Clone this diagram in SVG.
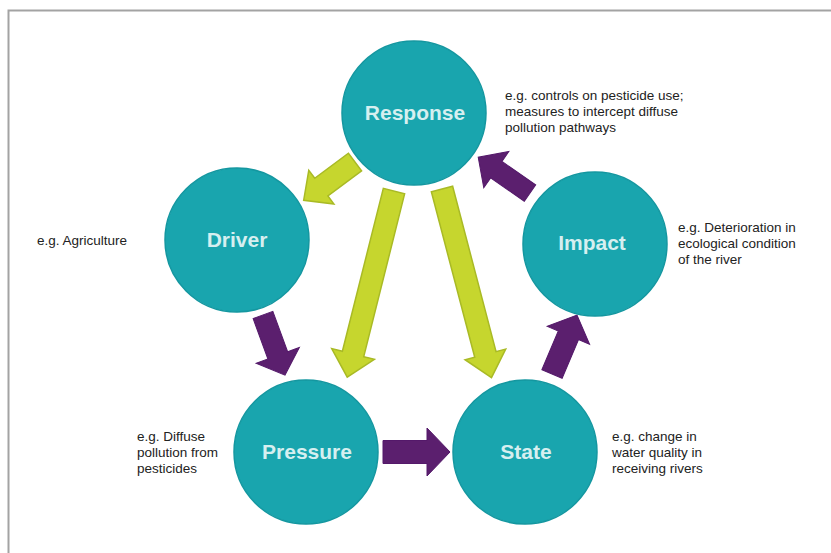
<svg xmlns="http://www.w3.org/2000/svg" width="831" height="553" viewBox="0 0 831 553">
<style>
.node{fill:#19a5ae;stroke:#1497a0;stroke-width:1.5}
.lbl{font-family:"Liberation Sans",Arial,sans-serif;font-weight:bold;font-size:21px;fill:#d6eff0;text-anchor:middle}
.note{font-family:"Liberation Sans",Arial,sans-serif;font-size:13.5px;fill:#222}
.g{fill:#c6d62e;stroke:#a9ba25;stroke-width:1.5;stroke-linejoin:miter}
.p{fill:#5b1f6e;stroke:#54196a;stroke-width:1}
</style>
<rect width="831" height="553" fill="#fff"/>
<path d="M8.5 553 V10.5 H831" fill="none" stroke="#a3a3a3" stroke-width="2"/>
<g id="connectors">
<polygon class="g" transform="translate(355,162) rotate(143.3)" points="0,-11 42,-11 42,-21 64,0 42,21 42,11 0,11"/>
<polygon class="g" transform="translate(394,191) rotate(104.1)" points="0,-11 168,-11 168,-22 192,0 168,22 168,11 0,11"/>
<polygon class="g" transform="translate(442,189) rotate(75.3)" points="0,-11 171,-11 171,-21 195,0 171,21 171,11 0,11"/>
<polygon class="p" transform="translate(263,315) rotate(69.9)" points="0,-10.5 43,-10.5 43,-23 64,0 43,23 43,10.5 0,10.5"/>
<polygon class="p" transform="translate(383,452)" points="0,-11.5 44,-11.5 44,-24 67,0 44,24 44,11.5 0,11.5"/>
<polygon class="p" transform="translate(552,374) rotate(-67)" points="0,-11 42,-11 42,-23 64,0 42,23 42,11 0,11"/>
<polygon class="p" transform="translate(530,193) rotate(-145.3)" points="0,-10 41,-10 41,-22 63,0 41,22 41,10 0,10"/>
</g>
<g id="response">
<circle class="node" cx="414" cy="113" r="72"/>
<text class="lbl" x="415" y="120">Response</text>
<text class="note" x="505" y="100">e.g. controls on pesticide use;</text>
<text class="note" x="505" y="116">measures to intercept diffuse</text>
<text class="note" x="505" y="132">pollution pathways</text>
</g>
<g id="driver">
<circle class="node" cx="237" cy="240" r="72"/>
<text class="lbl" x="237" y="247">Driver</text>
<text class="note" x="37" y="245">e.g. Agriculture</text>
</g>
<g id="impact">
<circle class="node" cx="595" cy="244" r="72"/>
<text class="lbl" x="592" y="250">Impact</text>
<text class="note" x="678" y="232">e.g. Deterioration in</text>
<text class="note" x="678" y="248">ecological condition</text>
<text class="note" x="678" y="264">of the river</text>
</g>
<g id="pressure">
<circle class="node" cx="306" cy="452" r="72"/>
<text class="lbl" x="307" y="459">Pressure</text>
<text class="note" x="137" y="441">e.g. Diffuse</text>
<text class="note" x="137" y="457">pollution from</text>
<text class="note" x="137" y="473">pesticides</text>
</g>
<g id="state">
<circle class="node" cx="525" cy="452" r="72"/>
<text class="lbl" x="526" y="459">State</text>
<text class="note" x="612" y="441">e.g. change in</text>
<text class="note" x="612" y="457">water quality in</text>
<text class="note" x="612" y="473">receiving rivers</text>
</g>
</svg>
